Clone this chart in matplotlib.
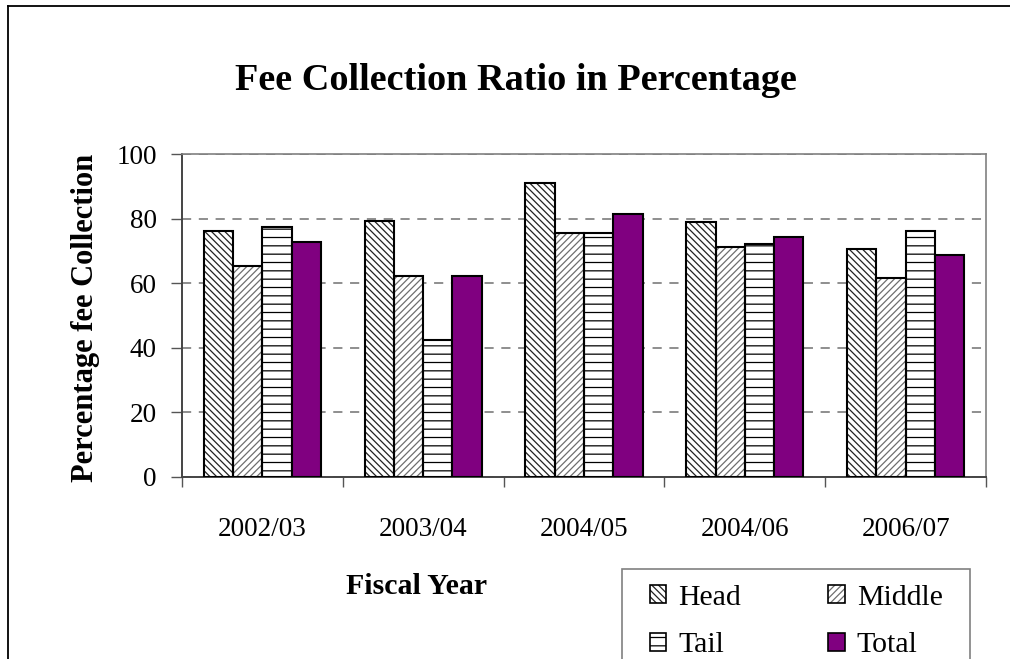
import numpy as np
import matplotlib
matplotlib.use('Agg')
import matplotlib.pyplot as plt
from matplotlib.patches import Patch, Rectangle
from matplotlib.lines import Line2D

years = ['2002/03', '2003/04', '2004/05', '2004/06', '2006/07']
head = [76.3, 79.4, 91.1, 78.8, 70.7]
middle = [65.2, 62.1, 75.6, 71.3, 61.5]
tail = [77.5, 42.4, 75.6, 72.0, 76.3]
total = [72.7, 62.1, 81.4, 74.4, 68.8]

series_names = ['Head', 'Middle', 'Tail', 'Total']
series_vals = [head, middle, tail, total]

plt.rcParams['font.family'] = ['Liberation Serif', 'DejaVu Serif']
plt.rcParams['hatch.linewidth'] = 0.9

W, H = 1010, 659
fig = plt.figure(figsize=(W / 100, H / 100), dpi=100)
ax = fig.add_axes([182 / W, 1 - 477 / H, 804 / W, 323 / H])

# fill / hatch colour / hatch pattern for each series
styles = {
    'Head': ('white', '#222222', '\\\\\\\\\\'),
    'Middle': ('white', '#6e6e6e', '/////'),
    'Tail': ('white', 'black', '--'),
    'Total': ('#800080', None, None),
}

x = np.arange(len(years))
w = 0.182
handles = {}
for i, (name, vals) in enumerate(zip(series_names, series_vals)):
    pos = x + (i - 1.5) * w
    fc, hc, hatch = styles[name]
    if hatch:
        ax.bar(pos, vals, w, color=fc, edgecolor=hc, hatch=hatch, linewidth=0, zorder=2)
        ax.bar(pos, vals, w, fill=False, edgecolor='black', linewidth=1.5, zorder=3)
        handles[name] = (Patch(facecolor=fc, edgecolor=hc, hatch=hatch, linewidth=0),
                         Patch(fill=False, edgecolor='black', linewidth=1.2))
    else:
        ax.bar(pos, vals, w, color=fc, edgecolor='black', linewidth=1.5, zorder=3)
        handles[name] = Patch(facecolor=fc, edgecolor='black', linewidth=1.2)

ax.set_xlim(-0.5, len(years) - 0.5)
ax.set_ylim(0, 100)
ax.set_yticks(np.arange(0, 101, 20))
ax.tick_params(axis='y', direction='out', length=8, width=1, color='#555555',
               labelsize=19.5, pad=10)

# category boundaries get the tick marks, labels sit at the centres
ax.set_xticks(np.arange(-0.5, len(years)), labels=[''] * (len(years) + 1))
ax.set_xticks(x, labels=years, minor=True)
ax.tick_params(axis='x', which='major', direction='out', length=7, width=1, color='#555555')
ax.tick_params(axis='x', which='minor', length=0, labelsize=19.5, pad=29)

ax.set_axisbelow(True)
ax.yaxis.grid(True, linestyle=(0, (6, 5)), color='#707070', linewidth=1.1)
for s in ['top', 'right']:
    ax.spines[s].set_color('#808080')
    ax.spines[s].set_linewidth(1.2)
for s in ['left', 'bottom']:
    ax.spines[s].set_color('#444444')
    ax.spines[s].set_linewidth(1.4)

fig.text(516 / W, 1 - 81 / H, 'Fee Collection Ratio in Percentage',
         ha='center', va='center', fontsize=27.5, fontweight='bold')
fig.text(86 / W, 1 - 318 / H, 'Percentage fee Collection', rotation=90,
         ha='center', va='center', fontsize=22, fontweight='bold')
fig.text(417 / W, 1 - 587 / H, 'Fiscal Year', ha='center', va='center',
         fontsize=21.5, fontweight='bold')

# legend box runs off the bottom of the picture
fig.add_artist(Rectangle((622 / W, -0.05), (970 - 622) / W, 0.05 + (659 - 569) / H,
                         transform=fig.transFigure, facecolor='white',
                         edgecolor='#808080', linewidth=1.2, zorder=4))
order = ['Head', 'Tail', 'Middle', 'Total']
leg = fig.legend([handles[n] for n in order], order, ncol=2,
                 loc='upper left', bbox_to_anchor=(650 / W, 1 - 585 / H),
                 fontsize=21.5, frameon=False,
                 handlelength=0.55, handleheight=0.55,
                 handletextpad=0.4, columnspacing=2.92, labelspacing=0.72,
                 borderpad=0, borderaxespad=0)
leg.set_zorder(5)

# outer chart frame (only top and left visible in the crop)
fig.add_artist(Line2D([8 / W, 8 / W], [0, 1 - 6 / H], color='black', linewidth=1.3))
fig.add_artist(Line2D([8 / W, 1], [1 - 6 / H, 1 - 6 / H], color='black', linewidth=1.3))

fig.savefig('out.png', dpi=100)
